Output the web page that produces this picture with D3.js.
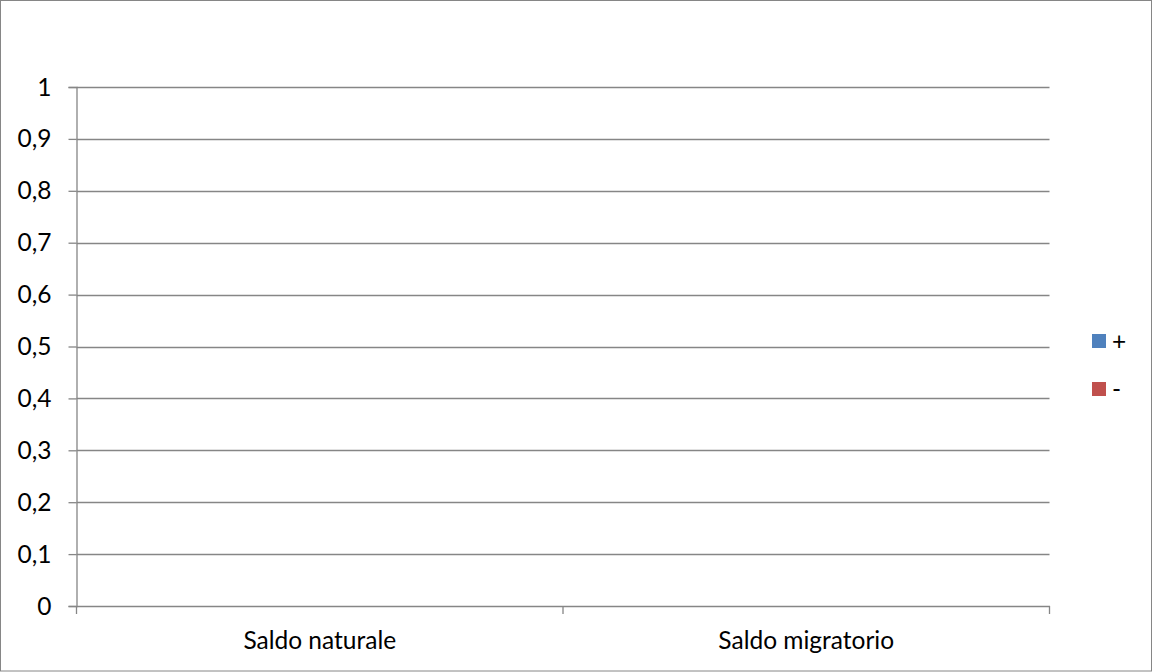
<!DOCTYPE html>
<html>
<head>
<meta charset="utf-8">
<script src="https://cdn.jsdelivr.net/npm/d3@7"></script>
<style>
  html, body { margin: 0; padding: 0; background: #fff; }
  svg { display: block; }
  text { font-family: Lato, "Open Sans", sans-serif; fill: #000; }
</style>
</head>
<body>
<svg id="chart" width="1153" height="672"></svg>
<script>
// Categories and series (no values recorded for either series)
const categories = ["Saldo naturale", "Saldo migratorio"];
const seriesNames = ["+", "-"];
const seriesColors = ["#4F81BD", "#C0504D"];
const plusValues = [null, null];
const minusValues = [null, null];
const yTicks = [0, 0.1, 0.2, 0.3, 0.4, 0.5, 0.6, 0.7, 0.8, 0.9, 1];

const W = 1153, H = 672;
const FS = "24.5px";
const margin = { left: 76.5, right: 1049.5, top: 87, bottom: 606 };
const svg = d3.select("#chart");

// outer frame
svg.append("rect")
  .attr("x", 0.5).attr("y", 0.5)
  .attr("width", W - 2).attr("height", H - 1.5)
  .attr("fill", "#fff").attr("stroke", "#868686").attr("stroke-width", 1);

const x = d3.scaleBand().domain(categories).range([margin.left, margin.right]);
const y = d3.scaleLinear().domain([0, 1]).range([margin.bottom, margin.top]);

const fmt = d => String(d).replace(".", ",");

// horizontal gridlines
svg.append("g").selectAll("line").data(yTicks.filter(d => d > 0)).join("line")
  .attr("x1", margin.left).attr("x2", margin.right)
  .attr("y1", d => Math.round(y(d)) + 0.5).attr("y2", d => Math.round(y(d)) + 0.5)
  .attr("stroke", "#868686").attr("stroke-width", 1.3);

// y axis
const yAxis = svg.append("g")
  .attr("transform", `translate(${margin.left},0)`)
  .call(d3.axisLeft(y).tickValues(yTicks).tickFormat(fmt).tickSize(8).tickPadding(17));
yAxis.selectAll("line, path").attr("stroke", "#868686").attr("stroke-width", 1.3);
yAxis.selectAll("text").style("font-size", FS).attr("fill", "#000").attr("dy", "0.33em");

// x axis
const xAxis = svg.append("g")
  .attr("transform", `translate(0,${margin.bottom})`)
  .call(d3.axisBottom(x).tickSizeOuter(0).tickSize(0));
xAxis.select("path").attr("stroke", "#868686").attr("stroke-width", 1.3);
xAxis.selectAll("text").style("font-size", FS).attr("fill", "#000")
  .attr("y", 43).attr("dy", 0);
// category boundary ticks
const bounds = [margin.left, margin.left + x.bandwidth(), margin.right];
svg.append("g").selectAll("line").data(bounds).join("line")
  .attr("x1", d => d).attr("x2", d => d)
  .attr("y1", margin.bottom).attr("y2", margin.bottom + 8)
  .attr("stroke", "#868686").attr("stroke-width", 1.3);

// bars (series are empty)
const xs = d3.scaleBand().domain(seriesNames).range([0, x.bandwidth()]).padding(0.3);
[plusValues, minusValues].forEach((vals, i) => {
  svg.append("g").selectAll("rect")
    .data(vals.map((v, j) => ({ c: categories[j], v })).filter(d => d.v != null))
    .join("rect")
    .attr("x", d => x(d.c) + xs(seriesNames[i]))
    .attr("width", xs.bandwidth())
    .attr("y", d => y(d.v)).attr("height", d => y(0) - y(d.v))
    .attr("fill", seriesColors[i]);
});

// legend
const legend = svg.append("g").attr("transform", "translate(1092,334)");
seriesNames.forEach((name, i) => {
  const g = legend.append("g").attr("transform", `translate(0,${i * 48})`);
  g.append("rect").attr("width", 14).attr("height", 14).attr("fill", seriesColors[i]);
  g.append("text").attr("x", 20).attr("y", 7).attr("dy", "0.35em")
    .style("font-size", FS).text(name);
});
</script>
</body>
</html>
